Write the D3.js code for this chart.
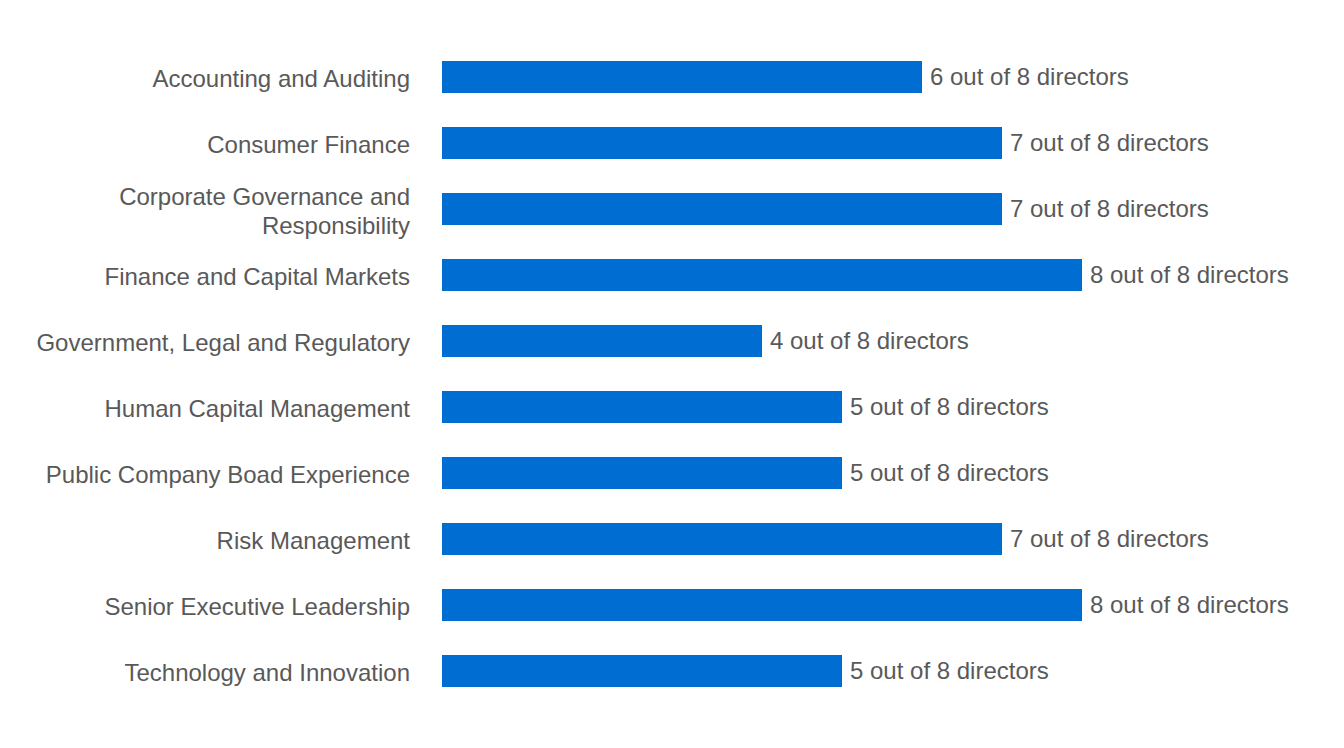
<!DOCTYPE html>
<html><head><meta charset="utf-8">
<script src="https://cdn.jsdelivr.net/npm/d3@7"></script>
<style>body{margin:0;background:#fff}svg{display:block}</style>
</head><body>
<script>
const categories = ["Accounting and Auditing","Consumer Finance","Corporate Governance and Responsibility","Finance and Capital Markets","Government, Legal and Regulatory","Human Capital Management","Public Company Boad Experience","Risk Management","Senior Executive Leadership","Technology and Innovation"];
const values = [6,7,7,8,4,5,5,7,8,5];
const total = 8;
const labelLines = {"Corporate Governance and Responsibility":["Corporate Governance and","Responsibility"]};

const W=1344,H=748;
const svg=d3.select("body").append("svg").attr("width",W).attr("height",H);
const x=d3.scaleLinear().domain([0,total]).range([442,1082]);
const y=d3.scaleBand().domain(categories).range([44,704]).paddingInner(0.515).paddingOuter(0.2575);
const font="'Liberation Sans', Arial, sans-serif";
const g=svg.append("g");
g.selectAll("rect").data(categories).join("rect")
 .attr("x",x(0)).attr("y",d=>y(d)).attr("height",y.bandwidth())
 .attr("width",(d,i)=>x(values[i])-x(0)).attr("fill","#006dd2");
g.selectAll("text.v").data(categories).join("text").attr("class","v")
 .attr("x",(d,i)=>x(values[i])+8).attr("y",d=>y(d)+y.bandwidth()/2)
 .attr("dy","0.35em").attr("font-family",font).attr("font-size",24).attr("fill","#595959")
 .text((d,i)=>`${values[i]} out of ${total} directors`);
const lab=g.selectAll("text.c").data(categories).join("text").attr("class","c")
 .attr("x",410).attr("y",d=>y(d)+y.bandwidth()/2+2).attr("text-anchor","end")
 .attr("font-family",font).attr("font-size",24).attr("fill","#595959");
lab.each(function(d){
  const lines=labelLines[d]||[d];
  const t=d3.select(this);
  lines.forEach((l,i)=>{
    t.append("tspan").attr("x",410)
     .attr("dy", i===0 ? ((0.35-(lines.length-1)*0.6)+"em") : "1.2em").text(l);
  });
});
</script>
</body></html>
